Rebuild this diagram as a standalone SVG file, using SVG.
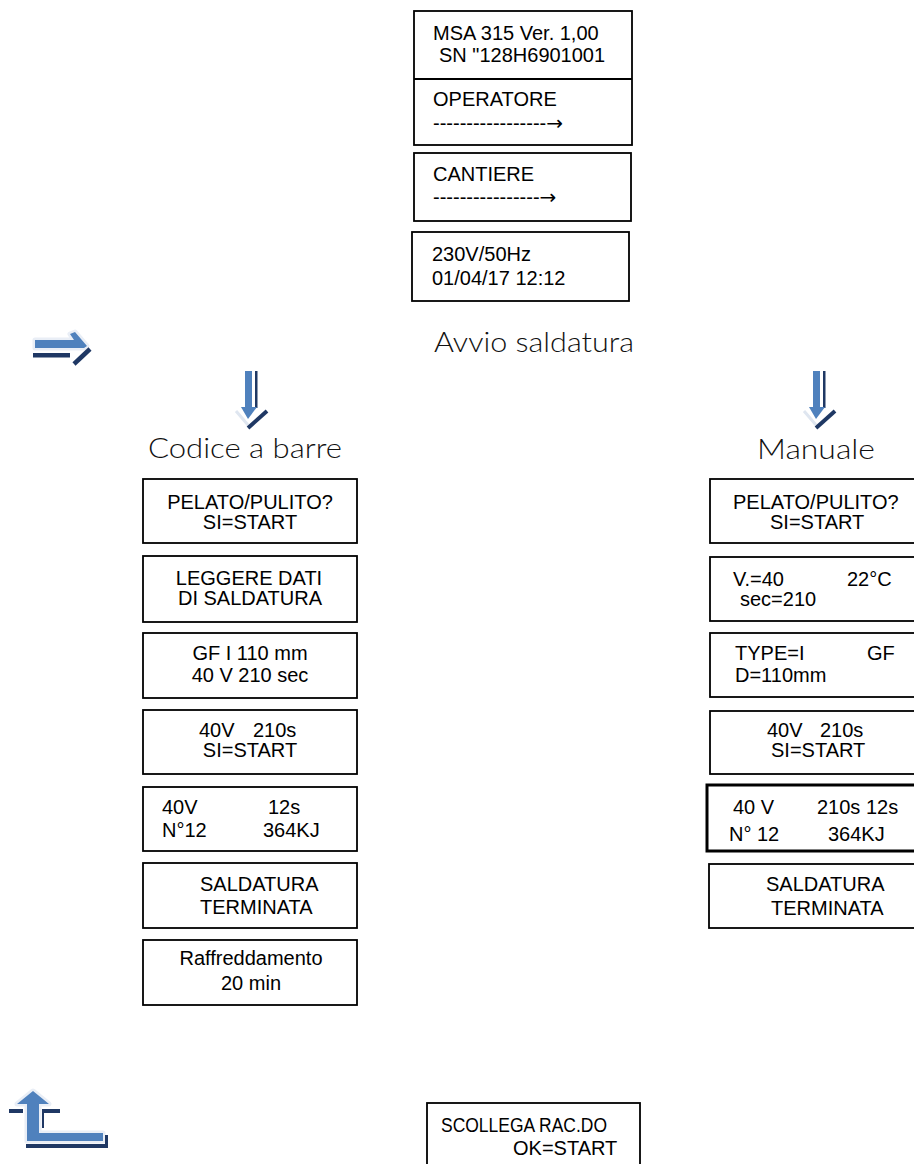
<svg xmlns="http://www.w3.org/2000/svg" width="914" height="1164" viewBox="0 0 914 1164">
<style>
.box{fill:#fff;stroke:#000;stroke-width:1.8}
.thick{fill:#fff;stroke:#000;stroke-width:3}
.t{font-family:"Liberation Sans",Arial,sans-serif;font-size:20px;fill:#000}
.arr{font-family:"DejaVu Sans",sans-serif;font-size:20px}
.c{text-anchor:middle}
.h{font-family:Lato,"DejaVu Sans",sans-serif;font-weight:300;font-size:27px;fill:#111}
.blue{fill:#4F81BD}
.dark{fill:#1F3864}
.halo{fill:none;stroke:#e9eef6;stroke-width:5;stroke-linejoin:round}
</style>
<rect width="914" height="1164" fill="#fff"/>

<g id="node-info">
<rect class="box" x="414" y="11" width="218" height="134"/>
<line x1="414" y1="79" x2="632" y2="79" stroke="#000" stroke-width="1.8"/>
<text class="t" x="433" y="40">MSA 315 Ver. 1,00</text>
<text class="t" x="439" y="62">SN &quot;128H6901001</text>
<text class="t" x="433" y="106">OPERATORE</text>
<text class="t" x="433" y="130">-----------------<tspan class="arr">→</tspan></text>
</g>
<g id="node-cantiere">
<rect class="box" x="414" y="153" width="217" height="68"/>
<text class="t" x="433" y="181">CANTIERE</text>
<text class="t" x="433" y="204">----------------<tspan class="arr">→</tspan></text>
</g>
<g id="node-rete">
<rect class="box" x="412" y="232" width="217" height="69"/>
<text class="t" x="432" y="261">230V/50Hz</text>
<text class="t" x="432" y="285">01/04/17 12:12</text>
</g>

<g id="labels">
<text class="h" x="434" y="352" textLength="200" lengthAdjust="spacingAndGlyphs">Avvio saldatura</text>
<text class="h" x="148" y="458" textLength="194" lengthAdjust="spacingAndGlyphs">Codice a barre</text>
<text class="h" x="757" y="459" textLength="118" lengthAdjust="spacingAndGlyphs">Manuale</text>
</g>

<g id="node-l1">
<rect class="box" x="143" y="479" width="214" height="64"/>
<text class="t c" x="250" y="509">PELATO/PULITO?</text>
<text class="t c" x="250" y="529">SI=START</text>
</g>
<g id="node-l2">
<rect class="box" x="143" y="556" width="214" height="66"/>
<text class="t c" x="249" y="585">LEGGERE DATI</text>
<text class="t c" x="250" y="605">DI SALDATURA</text>
</g>
<g id="node-l3">
<rect class="box" x="143" y="633" width="214" height="65"/>
<text class="t c" x="250" y="660">GF I 110 mm</text>
<text class="t c" x="250" y="682">40 V 210 sec</text>
</g>
<g id="node-l4">
<rect class="box" x="143" y="710" width="214" height="64"/>
<text class="t" y="737"><tspan x="199">40V</tspan><tspan x="253">210s</tspan></text>
<text class="t c" x="250" y="757">SI=START</text>
</g>
<g id="node-l5">
<rect class="box" x="143" y="787" width="214" height="64"/>
<text class="t" y="814"><tspan x="162">40V</tspan><tspan x="268">12s</tspan></text>
<text class="t" y="837"><tspan x="162">N°12</tspan><tspan x="263">364KJ</tspan></text>
</g>
<g id="node-l6">
<rect class="box" x="143" y="863" width="214" height="65"/>
<text class="t" x="200" y="891">SALDATURA</text>
<text class="t" x="200" y="914">TERMINATA</text>
</g>
<g id="node-l7">
<rect class="box" x="143" y="940" width="214" height="65"/>
<text class="t c" x="251" y="965">Raffreddamento</text>
<text class="t c" x="251" y="990">20 min</text>
</g>

<g id="node-r1">
<rect class="box" x="710" y="479" width="215" height="64"/>
<text class="t" x="733" y="509">PELATO/PULITO?</text>
<text class="t" x="770" y="529">SI=START</text>
</g>
<g id="node-r2">
<rect class="box" x="710" y="557" width="215" height="64"/>
<text class="t" y="586"><tspan x="733">V.=40</tspan><tspan x="847">22°C</tspan></text>
<text class="t" x="740" y="606">sec=210</text>
</g>
<g id="node-r3">
<rect class="box" x="710" y="633" width="215" height="64"/>
<text class="t" y="660"><tspan x="735">TYPE=I</tspan><tspan x="867">GF</tspan></text>
<text class="t" x="735" y="682">D=110mm</text>
</g>
<g id="node-r4">
<rect class="box" x="710" y="711" width="215" height="63"/>
<text class="t" y="737"><tspan x="767">40V</tspan><tspan x="820">210s</tspan></text>
<text class="t" x="771" y="757">SI=START</text>
</g>
<g id="node-r5">
<rect class="thick" x="707" y="785" width="218" height="66"/>
<text class="t" y="814"><tspan x="733">40 V</tspan><tspan x="817">210s 12s</tspan></text>
<text class="t" y="841"><tspan x="729">N° 12</tspan><tspan x="828">364KJ</tspan></text>
</g>
<g id="node-r6">
<rect class="box" x="709" y="864" width="216" height="64"/>
<text class="t" x="766" y="891">SALDATURA</text>
<text class="t" x="771" y="915">TERMINATA</text>
</g>

<g id="node-scollega">
<rect class="box" x="427" y="1103" width="213" height="75"/>
<text class="t" x="441" y="1132" font-size="19" textLength="166" lengthAdjust="spacingAndGlyphs">SCOLLEGA RAC.DO</text>
<text class="t" x="513" y="1155">OK=START</text>
</g>

<g id="connectors">
<g id="arrow-right">
<path class="halo" d="M35,340 H74 L70,334 L75,332 L87,346 L84,348 H35 Z"/>
<path class="blue" d="M35,340 H74 L70,334 L75,332 L87,346 L84,348 H35 Z"/>
<rect class="dark" x="33" y="353" width="37" height="4.5"/>
<line x1="74" y1="364" x2="90" y2="349" stroke="#1F3864" stroke-width="4.5"/>
</g>
<g id="arrow-down-left">
<path d="M236,411 L248,425" stroke="#dfe6f0" stroke-width="3" fill="none"/>
<rect class="blue" x="245" y="371" width="7" height="38"/>
<rect class="dark" x="255" y="371" width="2.5" height="37"/>
<polygon class="blue" points="241,407 257,407 248,419"/>
<line x1="248" y1="428" x2="267" y2="411" stroke="#1F3864" stroke-width="4"/>
</g>
<g id="arrow-down-right" transform="translate(568,0)">
<path d="M236,411 L248,425" stroke="#dfe6f0" stroke-width="3" fill="none"/>
<rect class="blue" x="245" y="371" width="7" height="38"/>
<rect class="dark" x="255" y="371" width="2.5" height="37"/>
<polygon class="blue" points="241,407 257,407 248,419"/>
<line x1="248" y1="428" x2="267" y2="411" stroke="#1F3864" stroke-width="4"/>
</g>
<g id="arrow-return">
<path class="halo" d="M33,1091 L49,1104 L39,1104 L39,1133 L103,1133 L103,1141 L27,1141 L27,1104 L17,1104 Z"/>
<rect class="dark" x="9" y="1109" width="14" height="4"/>
<path class="dark" d="M42,1109 H60 V1113 H44 V1128 H42 Z"/>
<path class="dark" d="M26,1144 H105 V1135 H108 V1148 H26 Z"/>
<path class="blue" d="M33,1091 L49,1104 L39,1104 L39,1133 L103,1133 L103,1141 L27,1141 L27,1104 L17,1104 Z"/>
</g>
</g>
</svg>
